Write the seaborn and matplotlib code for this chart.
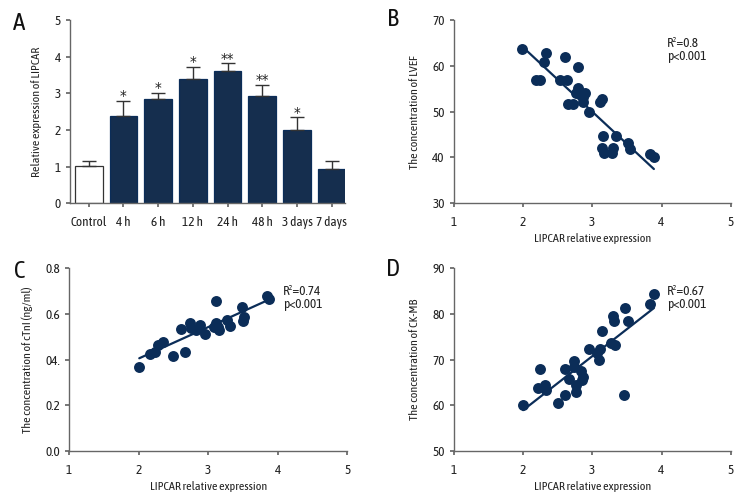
import matplotlib
matplotlib.use("Agg")
import matplotlib.pyplot as plt
import numpy as np
import pandas as pd
import seaborn as sns

# panel A: relative expression over time
time_points = ["Control", "4 h", "6 h", "12 h", "24 h", "48 h", "3 days", "7 days"]
expression = [1.02, 2.39, 2.85, 3.39, 3.62, 2.93, 2.01, 0.92]
expression_err = [0.12, 0.41, 0.17, 0.34, 0.20, 0.31, 0.33, 0.22]
stars = ["", "*", "*", "*", "**", "**", "*", ""]

# panel B: LVEF
lvef_x = [1.99, 2.33, 2.30, 2.60, 2.79, 2.18, 2.25, 2.53, 2.63, 2.79, 2.76, 2.89,
          2.87, 2.65, 2.72, 2.86, 2.95, 3.11, 3.14, 3.15, 3.34, 3.14, 3.17, 3.29,
          3.30, 3.51, 3.54, 3.84, 3.89]
lvef_y = [63.8, 62.9, 60.9, 61.9, 59.8, 56.9, 56.9, 56.9, 56.9, 55.1, 54.0, 54.1,
          53.1, 51.7, 51.7, 52.0, 49.9, 52.2, 52.8, 44.7, 44.7, 42.0, 40.9, 40.9,
          42.0, 43.1, 41.8, 40.8, 40.0]

# panel C: cTnI
ctni_x = [2.01, 2.17, 2.23, 2.28, 2.35, 2.50, 2.67, 2.61, 2.74, 2.75, 2.83, 2.88,
          2.95, 3.12, 3.12, 3.14, 3.16, 3.08, 3.27, 3.31, 3.49, 3.51, 3.50, 3.84, 3.88]
ctni_y = [0.367, 0.424, 0.434, 0.466, 0.478, 0.417, 0.434, 0.536, 0.562, 0.539,
          0.528, 0.550, 0.511, 0.656, 0.562, 0.543, 0.531, 0.541, 0.575, 0.546,
          0.630, 0.587, 0.568, 0.677, 0.666]

# panel D: CK-MB
ckmb_x = [2.00, 2.25, 2.21, 2.32, 2.33, 2.51, 2.60, 2.60, 2.67, 2.73, 2.73, 2.77,
          2.76, 2.83, 2.87, 2.85, 2.95, 3.07, 3.11, 3.10, 3.14, 3.27, 3.33, 3.30,
          3.32, 3.47, 3.52, 3.46, 3.84, 3.89]
ckmb_y = [60.1, 67.9, 63.9, 64.4, 63.4, 60.5, 62.3, 67.9, 65.7, 69.7, 68.3, 64.4,
          63.0, 67.4, 66.3, 65.5, 72.3, 71.5, 72.4, 70.0, 76.3, 73.7, 73.2, 79.5,
          78.5, 81.3, 78.5, 62.3, 82.2, 84.4]

NAVY = "#0b2d58"
GREY = "#666666"

sns.set_theme(style="ticks")
plt.rcParams["font.family"] = ["Asap Condensed", "DejaVu Sans"]
plt.rcParams["font.stretch"] = "condensed"
plt.rcParams.update({
    "axes.edgecolor": GREY,
    "axes.linewidth": 1.0,
    "xtick.color": GREY,
    "ytick.color": GREY,
    "xtick.labelcolor": "#222222",
    "ytick.labelcolor": "#222222",
    "xtick.labelsize": 9.5,
    "ytick.labelsize": 9.5,
    "axes.labelsize": 8.7,
    "axes.labelcolor": "#222222",
    "xtick.major.size": 3,
    "ytick.major.size": 3,
})

fig = plt.figure(figsize=(7.56, 5.04), dpi=100)
ax_a = fig.add_axes([0.0926, 0.597, 0.364, 0.363])
ax_b = fig.add_axes([0.6005, 0.597, 0.366, 0.363])
ax_c = fig.add_axes([0.0913, 0.105, 0.368, 0.363])
ax_d = fig.add_axes([0.6005, 0.105, 0.366, 0.363])

# ---- A: bar chart
df_a = pd.DataFrame({"time": time_points, "expr": expression})
colors = ["white"] + [NAVY] * (len(time_points) - 1)
sns.barplot(data=df_a, x="time", y="expr", hue="time", palette=colors,
            legend=False, width=0.8, ax=ax_a, errorbar=None)
for i, p in enumerate(ax_a.patches):
    p.set_edgecolor("#333333" if i == 0 else NAVY)
    p.set_linewidth(0.9)
pos = np.arange(len(time_points))
ax_a.errorbar(pos, expression, yerr=[np.zeros(len(pos)), expression_err],
              fmt="none", ecolor="#333333", elinewidth=1, capsize=5, capthick=1)
for x, v, e, s in zip(pos, expression, expression_err, stars):
    if s:
        ax_a.text(x, v + e - 0.12, s, ha="center", va="bottom", fontsize=11,
                  color="#222222", family="DejaVu Sans")
ax_a.set_xlim(-0.54, 7.39)
ax_a.set_ylim(0, 5)
ax_a.set_yticks([0, 1, 2, 3, 4, 5])
ax_a.set_xlabel("")
ax_a.set_ylabel("Relative expression of LIPCAR", labelpad=9)
ax_a.tick_params(axis="x", pad=6)
sns.despine(ax=ax_a)


def scatter_panel(ax, xs, ys, ylim, yticks, yticklabels, ylabel, r2):
    sns.regplot(x=np.array(xs), y=np.array(ys), ax=ax, ci=None,
                scatter_kws={"s": 62, "color": NAVY, "alpha": 1, "linewidths": 0},
                line_kws={"color": NAVY, "lw": 1.6})
    ax.set_xlim(1, 5)
    ax.set_ylim(*ylim)
    ax.set_xticks([1, 2, 3, 4, 5])
    ax.set_yticks(yticks)
    ax.set_yticklabels(yticklabels)
    ax.set_xlabel("LIPCAR relative expression", labelpad=3)
    ax.set_ylabel(ylabel, labelpad=9)
    ax.tick_params(axis="x", pad=6)
    ax.text(0.77, 0.87, r2, transform=ax.transAxes, fontsize=9.5,
            va="center", color="#222222")
    ax.text(0.77, 0.80, "p<0.001", transform=ax.transAxes, fontsize=9.5,
            va="center", color="#222222")
    sns.despine(ax=ax)


scatter_panel(ax_b, lvef_x, lvef_y, (30, 70), [30, 40, 50, 60, 70],
              ["30", "40", "50", "60", "70"], "The concentration of LVEF", "R²=0.8")
scatter_panel(ax_c, ctni_x, ctni_y, (0, 0.8), [0, 0.2, 0.4, 0.6, 0.8],
              ["0.0", "0.2", "04.", "0.6", "0.8"],
              "The concentration of cTnI (ng/ml)", "R²=0.74")
scatter_panel(ax_d, ckmb_x, ckmb_y, (50, 90), [50, 60, 70, 80, 90],
              ["50", "60", "70", "80", "90"], "The concentration of CK-MB", "R²=0.67")

for label, (x, y) in zip("ABCD", [(19, 23), (393, 20), (20, 272), (393, 270)]):
    fig.text(x / 756, 1 - y / 504, label, fontsize=18, ha="center", va="center",
             color="#111111")

fig.savefig("out.png", dpi=100)
